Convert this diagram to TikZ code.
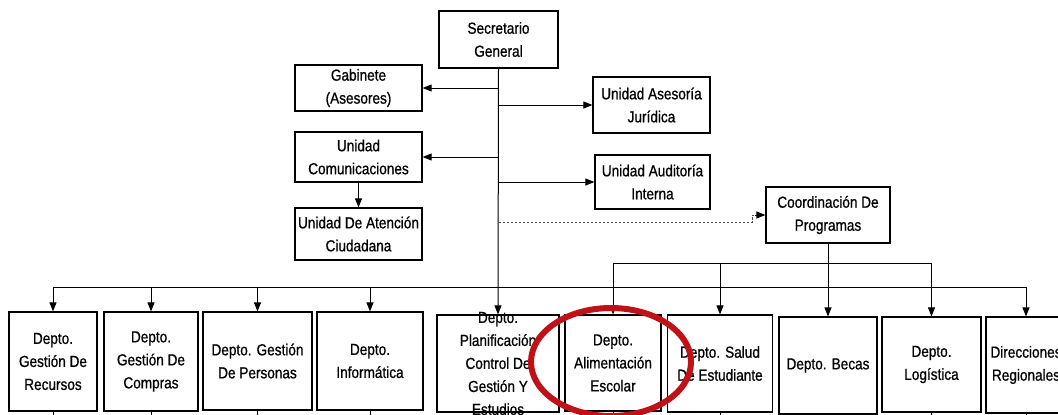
\documentclass[tikz,border=0pt]{standalone}
\usepackage{fontspec}
\setmainfont[FakeStretch=0.85,FakeBold=0.8]{Liberation Sans}
\usetikzlibrary{arrows.meta}
\definecolor{markred}{RGB}{192,18,22}
\tikzset{
  box/.style={draw, line width=1.2pt, align=center, inner sep=0pt},
  link/.style={line width=1pt},
}
\begin{document}
\begin{tikzpicture}[x=1pt, y=-1pt, font=\fontsize{16}{23}\selectfont,
    >={Triangle[length=9pt,width=7pt]}]
  \useasboundingbox (0,0) rectangle (1058,415);
  \clip (0,0) rectangle (1058,415);
  % top level
  \node[box, minimum width=119pt, minimum height=57pt] (sec) at (498.5,39.5) {Secretario\\General};
  \node[box, minimum width=127pt, minimum height=46pt] (gab) at (358.5,88) {Gabinete\\(Asesores)};
  \node[box, minimum width=127pt, minimum height=50pt] (com) at (358.5,157) {Unidad\\Comunicaciones};
  \node[box, minimum width=127pt, minimum height=52pt] (aten) at (358.5,234) {Unidad De Atención\\Ciudadana};
  \node[box, minimum width=117pt, minimum height=56pt] (jur) at (651.5,105) {Unidad Asesoría\\Jurídica};
  \node[box, minimum width=115pt, minimum height=54pt] (aud) at (652.5,182) {Unidad Auditoría\\Interna};
  \node[box, minimum width=124pt, minimum height=56pt] (coord) at (828,215) {Coordinación De\\Programas};
  % departments
  \node[box, minimum width=88pt, minimum height=99pt] (rec) at (53,361.5) {Depto.\\Gestión De\\Recursos};
  \node[box, minimum width=94pt, minimum height=99pt] (comp) at (151,361.5) {Depto.\\Gestión De\\Compras};
  \node[box, minimum width=109pt, minimum height=98pt] (pers) at (257.5,361) {Depto. Gestión\\De Personas};
  \node[box, minimum width=106pt, minimum height=98pt] (inf) at (370,361) {Depto.\\Informática};
  \node[box, minimum width=122pt, minimum height=97pt] (plan) at (498,363.5) {};
  \node[align=center, inner sep=0pt] (plantxt) at (plan) {Depto.\\Planificación\\Control De\\Gestión Y\\Estudios};
  \node[box, minimum width=96pt, minimum height=96pt] (alim) at (613,363) {Depto.\\Alimentación\\Escolar};
  \node[box, minimum width=105pt, minimum height=97pt] (salud) at (720,363.5) {Depto. Salud\\De Estudiante};
  \node[box, minimum width=98pt, minimum height=97pt] (becas) at (828,365.5) {Depto. Becas};
  \node[box, minimum width=99pt, minimum height=95pt] (log) at (931.5,364.5) {Depto.\\Logística};
  \node[box, minimum width=80pt, minimum height=96pt] (dir) at (1026,365) {Direcciones\\Regionales};
  % connectors
  \coordinate (bus) at (0,287);
  \coordinate (cbus) at (0,263);
  \coordinate (bend) at (752,215);
  \draw[link,->] (sec.south) -- (plan.north);
  \draw[link,->] (sec.south |- gab.east) -- (gab.east);
  \draw[link,->] (sec.south |- com.east) -- (com.east);
  \draw[link,->] (sec.south |- jur.west) -- (jur.west);
  \draw[link,->] (sec.south |- aud.west) -- (aud.west);
  \draw[link,->] (com) -- (aten);
  \draw[link, dash pattern=on 2.5pt off 1.5pt, black!70]
    (sec.south |- 0,222) -- (bend |- 0,222) -- (bend) -- ++(3,0);
  \draw[link,->] ([xshift=3pt]bend) -- (coord.west);
  \draw[link] (rec.north |- bus) -- (dir.north |- bus);
  \foreach \n in {rec,comp,pers,inf,dir}
    \draw[link,->] (\n.north |- bus) -- (\n.north);
  \draw[link] (coord.south) -- (coord.south |- cbus);
  \draw[link] (alim.north |- cbus) -- (log.north |- cbus);
  \foreach \n in {alim,salud,becas,log}
    \draw[link,->] (\n.north |- cbus) -- (\n.north);
  \foreach \n in {rec,comp,pers,inf,alim,salud,becas,log,dir}
    \draw[link] (\n.south) -- ++(0,12);
  % highlight
  \draw[line width=6pt, markred] (611,362) ellipse [x radius=80, y radius=54];
\end{tikzpicture}
\end{document}
